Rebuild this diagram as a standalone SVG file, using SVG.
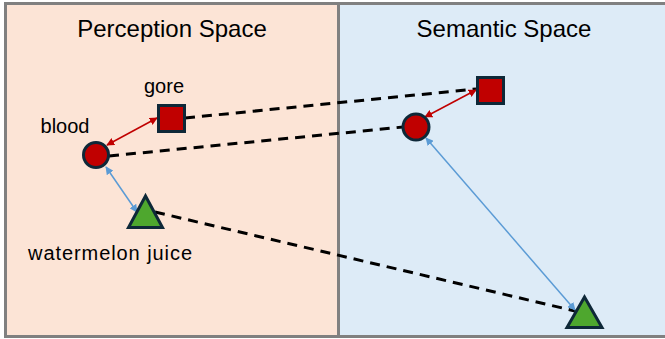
<svg xmlns="http://www.w3.org/2000/svg" width="665" height="339" viewBox="0 0 665 339">
<style>
.panel{stroke:#808080;stroke-width:3}
.title{font-family:"Liberation Sans","DejaVu Sans",sans-serif;font-size:24px;fill:#000;text-anchor:middle}
.lbl{font-family:"Liberation Sans","DejaVu Sans",sans-serif;font-size:20px;fill:#000;text-anchor:middle}
.red{fill:#C00000;stroke:#0E2838;stroke-width:3}
.grn{fill:#4EA72E;stroke:#0E2838;stroke-width:3;stroke-linejoin:miter}
.dash{stroke:#000;stroke-width:3;stroke-dasharray:10 7;fill:none}
.ra{stroke:#C00000;stroke-width:1.5;fill:none;marker-start:url(#mr);marker-end:url(#mr)}
.ba{stroke:#5B9BD5;stroke-width:1.5;fill:none;marker-start:url(#mb);marker-end:url(#mb)}
</style>
<defs>
<marker id="mr" viewBox="0 0 10 10" refX="9" refY="5" markerWidth="8" markerHeight="8" markerUnits="userSpaceOnUse" orient="auto-start-reverse"><path d="M0,0L10,5L0,10z" fill="#C00000"/></marker>
<marker id="mb" viewBox="0 0 10 10" refX="9" refY="5" markerWidth="8" markerHeight="8" markerUnits="userSpaceOnUse" orient="auto-start-reverse"><path d="M0,0L10,5L0,10z" fill="#5B9BD5"/></marker>
</defs>
<g id="perception-panel">
<rect class="panel" x="5.5" y="3.5" width="333" height="333" fill="#FCE4D6"/>
<text class="title" x="172" y="37">Perception Space</text>
</g>
<g id="semantic-panel">
<rect class="panel" x="338.5" y="3.5" width="330" height="333" fill="#DDEBF7"/>
<text class="title" x="504" y="37">Semantic Space</text>
</g>
<g id="connectors">
<line class="dash" x1="185" y1="118" x2="476" y2="89"/>
<line class="dash" x1="109" y1="156" x2="403" y2="127"/>
<line class="dash" x1="155" y1="212" x2="575" y2="311"/>
<line class="ra" x1="157" y1="118" x2="107" y2="145"/>
<line class="ra" x1="476" y1="90" x2="425" y2="117"/>
<line class="ba" x1="106" y1="167" x2="137" y2="212"/>
<line class="ba" x1="426" y1="138" x2="575" y2="310"/>
</g>
<g id="gore-p">
<rect class="red" x="158.5" y="105.5" width="26" height="26"/>
<text class="lbl" x="164" y="93">gore</text>
</g>
<g id="blood-p">
<circle class="red" cx="96" cy="155" r="12.5"/>
<text class="lbl" x="65" y="133">blood</text>
</g>
<g id="watermelon-p">
<polygon class="grn" points="145.5,196 128.5,227.5 162.5,227.5"/>
<text class="lbl" x="110" y="260" textLength="164" lengthAdjust="spacing">watermelon juice</text>
</g>
<g id="gore-s">
<rect class="red" x="477.5" y="77.5" width="26" height="26"/>
</g>
<g id="blood-s">
<circle class="red" cx="416" cy="127" r="13"/>
</g>
<g id="watermelon-s">
<polygon class="grn" points="584.5,297 567,327.5 602,327.5"/>
</g>
</svg>
